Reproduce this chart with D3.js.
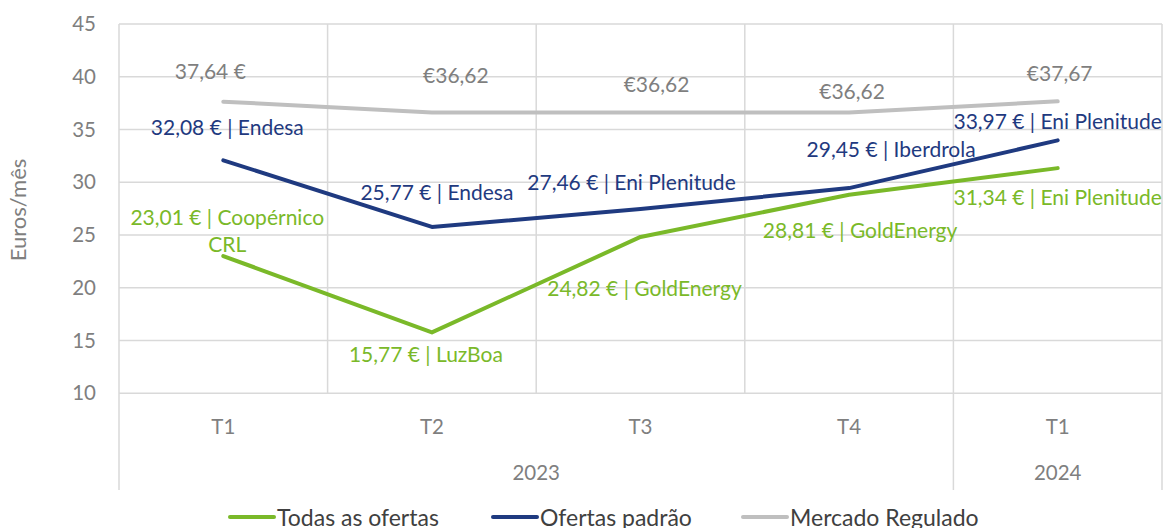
<!DOCTYPE html>
<html><head><meta charset="utf-8">
<script src="https://cdn.jsdelivr.net/npm/d3@7"></script>
<style>body{margin:0;background:#fff;} svg{display:block;font-family:Lato,"Open Sans",sans-serif;}</style>
</head><body>
<svg id="c" width="1163" height="528"></svg>
<script>
const quarters = ["T1","T2","T3","T4","T1"];
const years = [{label:"2023", from:0, to:4}, {label:"2024", from:4, to:5}];
const todasOfertas = [23.01, 15.77, 24.82, 28.81, 31.34];
const ofertasPadrao = [32.08, 25.77, 27.46, 29.45, 33.97];
const mercadoRegulado = [37.64, 36.62, 36.62, 36.62, 37.67];
const labelsTodas = [["23,01 € | Coopérnico","CRL"],["15,77 € | LuzBoa"],["24,82 € | GoldEnergy"],["28,81 € | GoldEnergy"],["31,34 € | Eni Plenitude"]];
const labelsPadrao = [["32,08 € | Endesa"],["25,77 € | Endesa"],["27,46 € | Eni Plenitude"],["29,45 € | Iberdrola"],["33,97 € | Eni Plenitude"]];
const labelsRegulado = [["37,64 €"],["€36,62"],["€36,62"],["€36,62"],["€37,67"]];
const yTicks = [10,15,20,25,30,35,40,45];
const seriesNames = ["Todas as ofertas","Ofertas padrão","Mercado Regulado"];

const svg = d3.select("#c");
const L = 119, R = 1162, T = 24, B = 393.3;
const x = d3.scaleBand().domain(d3.range(quarters.length)).range([L, R]).padding(0);
const y = d3.scaleLinear().domain([10,45]).range([B, T]);
const cx = i => x(i) + x.bandwidth()/2;
const grid = "#d9d9d9";
const axisFs = 20.5, labelFs = 21;

svg.append("g").selectAll("line").data(yTicks).join("line")
  .attr("x1", L).attr("x2", R).attr("y1", d=>y(d)).attr("y2", d=>y(d))
  .attr("stroke", grid).attr("stroke-width", 1.5);
svg.append("g").selectAll("line").data(d3.range(quarters.length+1)).join("line")
  .attr("x1", i => i<quarters.length ? x(i) : R).attr("x2", i => i<quarters.length ? x(i) : R)
  .attr("y1", T).attr("y2", i => (i===0 || i===4 || i===5) ? 490 : B)
  .attr("stroke", grid).attr("stroke-width", 1.5);

svg.append("g").selectAll("text").data(yTicks).join("text")
  .attr("x", 96).attr("y", d=>y(d)).attr("dy","0.35em").attr("text-anchor","end")
  .attr("fill","#7f7f7f").attr("font-size",axisFs).text(d=>d);
svg.append("text").attr("transform","translate(26,210) rotate(-90)").attr("text-anchor","middle")
  .attr("fill","#7f7f7f").attr("font-size",22).text("Euros/mês");

svg.append("g").selectAll("text").data(quarters).join("text")
  .attr("x",(d,i)=>cx(i)).attr("y",427).attr("dy","0.35em").attr("text-anchor","middle")
  .attr("fill","#7f7f7f").attr("font-size",axisFs).text(d=>d);
svg.append("g").selectAll("text").data(years).join("text")
  .attr("x", d => (x(d.from) + (d.to<quarters.length ? x(d.to) : R))/2).attr("y",473).attr("dy","0.35em")
  .attr("text-anchor","middle").attr("fill","#7f7f7f").attr("font-size",axisFs).text(d=>d.label);

const colors = ["#7ab929","#1f3a80","#bfbfbf"];
const labelColors = ["#7ab929","#1f3a80","#7f7f7f"];
const data = [todasOfertas, ofertasPadrao, mercadoRegulado];
const line = d3.line().x((d,i)=>cx(i)).y(d=>y(d));
[2,0,1].forEach(s=>{
  svg.append("path").datum(data[s]).attr("d", line).attr("fill","none")
    .attr("stroke", colors[s]).attr("stroke-width",4).attr("stroke-linecap","round").attr("stroke-linejoin","round");
});

const offTodas = [[4,-38],[-6,22],[4,52],[11,36],[0,30]];
const offPadrao = [[4,-33],[5,-34],[-9,-26],[42,-38],[0,-19]];
const offRegulado = [[-13,-30],[24,-37],[16,-28],[3,-21],[2,-28]];
const labels = [labelsTodas, labelsPadrao, labelsRegulado];
const offs = [offTodas, offPadrao, offRegulado];
[0,1,2].forEach(s=>{
  data[s].forEach((v,i)=>{
    const lines = labels[s][i];
    const t = svg.append("text").attr("text-anchor","middle").attr("fill",labelColors[s]).attr("font-size",labelFs);
    lines.forEach((ln,k)=>{
      t.append("tspan").attr("x", cx(i)+offs[s][i][0]).attr("y", y(v)+offs[s][i][1] + k*27).attr("dy","0.35em").text(ln);
    });
  });
});

const legX = [230, 493, 743];
seriesNames.forEach((n,s)=>{
  svg.append("line").attr("x1",legX[s]).attr("x2",legX[s]+44).attr("y1",517).attr("y2",517)
    .attr("stroke",colors[s]).attr("stroke-width",4).attr("stroke-linecap","round");
  svg.append("text").attr("x",legX[s]+47).attr("y",518).attr("dy","0.35em").attr("fill","#404040")
    .attr("font-size",23).text(n);
});
</script>
</body></html>
